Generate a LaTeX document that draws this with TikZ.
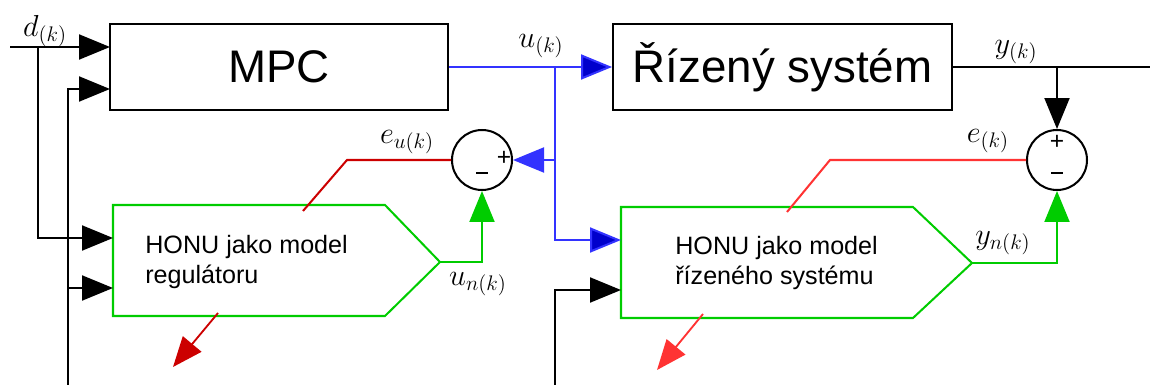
\documentclass[tikz,border=0pt]{standalone}
\usepackage{fontspec}
\newfontfamily\arialf{Liberation Sans}
\usetikzlibrary{arrows.meta}
\definecolor{cblue}{HTML}{3333FF}
\definecolor{cdblue}{HTML}{0000CC}
\definecolor{cgreen}{HTML}{00CC00}
\definecolor{cred}{HTML}{CC0000}
\definecolor{clred}{HTML}{FF3333}
\begin{document}
\begin{tikzpicture}[x=0.02cm,y=-0.02cm,
  lw/.style={line width=1.15pt},
  tri/.style={-{Triangle[length=0.62cm,width=0.5cm]}},
  dtri/.style={-{Triangle[length=0.62cm,width=0.5cm,fill=cdblue]}},
  blk/.style={draw=black,lw},
  bigbox/.style={draw=black,lw,minimum height=1.72cm,inner sep=0pt,font=\arialf\fontsize{26}{30}\selectfont},
  sumnode/.style={circle,draw=black,lw,minimum size=1.2cm,inner sep=0pt},
  sgn/.style={font=\arialf\fontsize{14}{16}\selectfont,inner sep=0pt},
  lbl/.style={font=\fontsize{18}{21}\selectfont,inner sep=0pt},
  honu/.style={draw=cgreen,lw},
  honutxt/.style={align=left,anchor=west,inner sep=0pt,font=\arialf\fontsize{14.3}{16.6}\selectfont}
]
\useasboundingbox (0,0) rectangle (1150,385);

% main blocks
\node[bigbox,minimum width=6.76cm] (mpc) at (279,67) {MPC};
\node[bigbox,minimum width=6.78cm] (sys) at (782.5,67) {Řízený systém};

% summing junctions
\node[sumnode] (sum1) at (482,160) {};
\node[sumnode] (sum2) at (1057,160) {};
\node[sgn] (s1p) at (504,158) {+};
\node[sgn] (s1m) at (482,176) {\rule[0.25em]{0.45em}{0.1em}};
\node[sgn] (s2p) at (1057,142) {+};
\node[sgn] (s2m) at (1057,176) {\rule[0.25em]{0.45em}{0.1em}};

% HONU blocks
\draw[honu] (113,205) coordinate (h1tl) -- (385,205) -- (440,262) coordinate (h1tip) -- (385,316) -- (113,316) -- cycle;
\draw[honu] (621,207) coordinate (h2tl) -- (913,207) -- (972,263) coordinate (h2tip) -- (913,318) -- (621,318) -- cycle;
\node[honutxt] (h1txt) at (145,262) {HONU jako model\\regulátoru};
\node[honutxt] (h2txt) at (675,263) {HONU jako model\\řízeného systému};

\coordinate (mpcin1) at (110,47);
\coordinate (mpcin2) at (110,89);
\coordinate (h1in1) at (113,238);
\coordinate (h1in2) at (113,288);
\coordinate (h2in1) at (621,240);
\coordinate (h2in2) at (621,290);

% d(k) input
\coordinate (din) at (10,47);
\coordinate (dsplit) at (38,47);
\draw[blk,tri] (din) -- (mpcin1);
\draw[blk,tri] (dsplit) |- (h1in1);
\node[lbl] (dlbl) at (45,31) {$d_{(k)}$};

% feedback line to MPC
\coordinate (fb1) at (68,385);
\coordinate (fb1b) at (68,288);
\draw[blk,tri] (fb1) |- (mpcin2);
\draw[blk,tri] (fb1b) -- (h1in2);

% control signal u(k)
\coordinate (usplit) at (555,67);
\coordinate (usum) at (555,160);
\draw[cblue,lw] (mpc.east) -- (usplit);
\draw[cblue,lw,dtri] (usplit) -- (sys.west);
\draw[cblue,lw] (usplit) -- (usum);
\draw[cblue,lw,tri] (usum) -- (sum1.east);
\draw[cblue,lw,dtri] (usum) |- (h2in1);
\node[lbl] (ulbl) at (541,46) {$u_{(k)}$};

% plant input for HONU2
\coordinate (fb2) at (555,385);
\draw[blk,tri] (fb2) |- (h2in2);

% output y(k)
\coordinate (yend) at (1150,67);
\coordinate (ysplit) at (1057,67);
\draw[blk] (sys.east) -- (yend);
\draw[blk,tri] (ysplit) -- (sum2.north);
\node[lbl] (ylbl) at (1016,52) {$y_{(k)}$};

% HONU outputs
\draw[cgreen,lw,tri] (h1tip) -| (sum1.south);
\draw[cgreen,lw,tri] (h2tip) -| (sum2.south);
\node[lbl] (unlbl) at (478,284) {$u_{n(k)}$};
\node[lbl] (ynlbl) at (1003,243) {$y_{n(k)}$};

% errors
\coordinate (e1a) at (347,160);
\coordinate (e1b) at (303,211);
\draw[cred,lw] (sum1.west) -- (e1a) -- (e1b);
\node[lbl] (eulbl) at (407,142) {$e_{u(k)}$};
\coordinate (e2a) at (830,160);
\coordinate (e2b) at (787,212);
\draw[clred,lw] (sum2.west) -- (e2a) -- (e2b);
\node[lbl] (elbl) at (988,141) {$e_{(k)}$};

% learning arrows
\coordinate (r1a) at (218,313);
\coordinate (r1b) at (173,367);
\draw[cred,line width=1.05pt,-{Triangle[length=0.6cm,width=0.48cm]}] (r1a) -- (r1b);
\coordinate (r2a) at (703,314);
\coordinate (r2b) at (657,370);
\draw[clred,line width=1.05pt,-{Triangle[length=0.6cm,width=0.48cm]}] (r2a) -- (r2b);
\end{tikzpicture}
\end{document}
